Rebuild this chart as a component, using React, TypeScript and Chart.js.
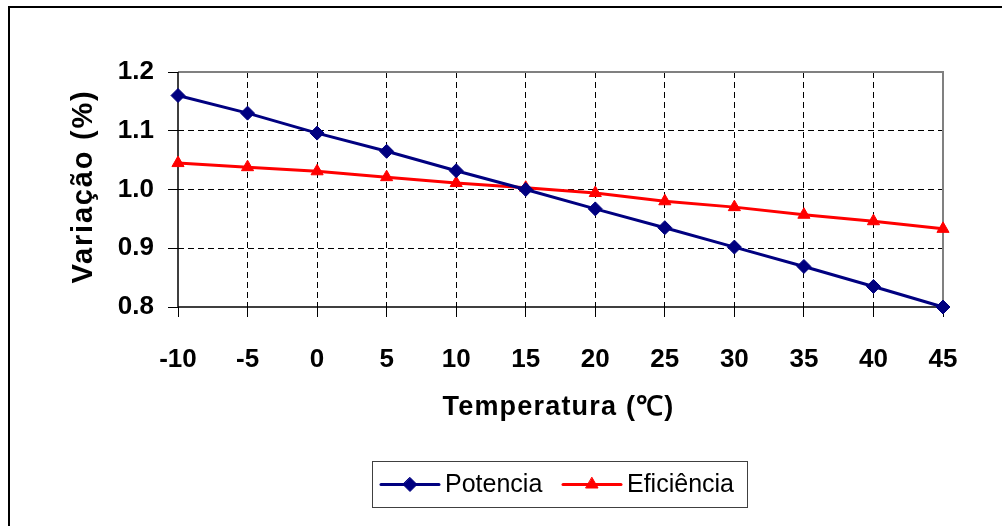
import React, { useEffect, useRef } from "react";
import { Chart, registerables } from "chart.js";

Chart.register(...registerables);

const temperatures = ["-10", "-5", "0", "5", "10", "15", "20", "25", "30", "35", "40", "45"];
const potencia = [1.16, 1.13, 1.096, 1.065, 1.032, 1.0, 0.967, 0.935, 0.902, 0.869, 0.835, 0.8];
const eficiencia = [1.045, 1.038, 1.031, 1.021, 1.011, 1.003, 0.994, 0.98, 0.97, 0.957, 0.946, 0.933];
const seriesNames = ["Potencia", "Eficiência"];
const xTitle = "Temperatura (℃)";
const yTitle = "Variação (%)";

const NAVY = "#000080";
const RED = "#FF0000";
const BOLD_FONT = "'Liberation Sans', Arial, sans-serif";

function drawMarker(ctx: CanvasRenderingContext2D, style: string, r: number, x: number, y: number, color: string) {
  ctx.save();
  ctx.fillStyle = color;
  ctx.strokeStyle = color;
  ctx.lineWidth = 1;
  ctx.beginPath();
  if (style === "rectRot") {
    ctx.moveTo(x, y - r);
    ctx.lineTo(x + r, y);
    ctx.lineTo(x, y + r);
    ctx.lineTo(x - r, y);
  } else {
    const h = r * 1.5;
    const w = r * Math.sqrt(3);
    ctx.moveTo(x, y - r);
    ctx.lineTo(x + w / 2, y - r + h);
    ctx.lineTo(x - w / 2, y - r + h);
  }
  ctx.closePath();
  ctx.fill();
  ctx.stroke();
  ctx.restore();
}

const framePlugin = {
  id: "frame",
  beforeDatasetsDraw(chart: any) {
    const { ctx, chartArea } = chart;
    const { left, right, top, bottom } = chartArea;
    ctx.save();
    ctx.setLineDash([]);
    ctx.strokeStyle = "#808080";
    ctx.lineWidth = 2;
    ctx.beginPath();
    ctx.moveTo(left, top);
    ctx.lineTo(right, top);
    ctx.lineTo(right, bottom);
    ctx.stroke();
    ctx.strokeStyle = "#000";
    ctx.lineWidth = 1.5;
    ctx.beginPath();
    ctx.moveTo(left, top);
    ctx.lineTo(left, bottom);
    ctx.lineTo(right, bottom);
    ctx.stroke();
    ctx.restore();
  },
  afterDraw(chart: any) {
    const { ctx, width, height, chartArea } = chart;
    ctx.save();
    ctx.setLineDash([]);
    // outer border (top and left visible)
    ctx.strokeStyle = "#000";
    ctx.lineWidth = 2;
    ctx.beginPath();
    ctx.moveTo(9, height + 5);
    ctx.lineTo(9, 7);
    ctx.lineTo(width + 5, 7);
    ctx.stroke();

    // axis titles (slightly stretched like the original)
    const cx = (chartArea.left + chartArea.right) / 2;
    const cyA = (chartArea.top + chartArea.bottom) / 2;
    ctx.fillStyle = "#000";
    ctx.textAlign = "center";
    ctx.textBaseline = "middle";
    ctx.font = `bold 27px ${BOLD_FONT}`;
    (ctx as any).letterSpacing = "1.2px";
    ctx.fillText(xTitle, cx - 2, 408);
    ctx.save();
    ctx.translate(84, cyA - 3);
    ctx.rotate(-Math.PI / 2);
    ctx.font = `bold 29px ${BOLD_FONT}`;
    (ctx as any).letterSpacing = "1.8px";
    ctx.fillText(yTitle, 0, 0);
    ctx.restore();
    (ctx as any).letterSpacing = "0px";

    // legend box
    const bx = 372, by = 461, bw = 375, bh = 46;
    ctx.lineWidth = 1;
    ctx.strokeStyle = "#404040";
    ctx.strokeRect(bx + 0.5, by + 0.5, bw, bh);
    const cy = by + bh / 2 + 0.5;
    const items = [
      { x: 381, color: NAVY, style: "rectRot", r: 7, text: seriesNames[0] },
      { x: 563, color: RED, style: "triangle", r: 7, text: seriesNames[1] },
    ];
    ctx.font = `25px ${BOLD_FONT}`;
    ctx.textBaseline = "middle";
    ctx.textAlign = "left";
    for (const it of items) {
      ctx.strokeStyle = it.color;
      ctx.lineWidth = 3;
      ctx.lineCap = "round";
      ctx.beginPath();
      ctx.moveTo(it.x, cy);
      ctx.lineTo(it.x + 58, cy);
      ctx.stroke();
      drawMarker(ctx, it.style, it.r, it.x + 29, cy, it.color);
      ctx.fillStyle = "#000";
      ctx.fillText(it.text, it.x + 64, cy + 1);
    }
    ctx.restore();
  },
};

export default function App() {
  const ref = useRef<HTMLCanvasElement>(null);
  useEffect(() => {
    if (!ref.current) return;
    const n = temperatures.length;
    const chart = new Chart(ref.current, {
      type: "line",
      data: {
        labels: temperatures,
        datasets: [
          {
            label: seriesNames[0],
            data: potencia,
            borderColor: NAVY,
            backgroundColor: NAVY,
            borderWidth: 3,
            pointStyle: "rectRot",
            pointRadius: 7,
            pointBorderWidth: 1,
            tension: 0,
          },
          {
            label: seriesNames[1],
            data: eficiencia,
            borderColor: RED,
            backgroundColor: RED,
            borderWidth: 3,
            pointStyle: "triangle",
            pointRadius: 7,
            pointBorderWidth: 1,
            tension: 0,
          },
        ],
      },
      options: {
        responsive: false,
        animation: false,
        clip: false as any,
        layout: { padding: { left: 0, top: 72, right: 59, bottom: 89 } },
        plugins: { legend: { display: false }, tooltip: { enabled: false } },
        scales: {
          x: {
            type: "category",
            offset: false,
            afterFit(scale: any) {
              scale.height = 130;
            },
            grid: {
              color: (c: any) => (c.index === 0 || c.index === n - 1 ? "rgba(0,0,0,0)" : "#000"),
              lineWidth: 1,
              tickColor: "#000",
              tickBorderDash: [],
              tickLength: 10,
              drawTicks: true,
            } as any,
            border: { display: false, dash: [6, 4] } as any,
            ticks: {
              color: "#000",
              padding: 27,
              maxRotation: 0,
              autoSkip: false,
              font: { family: BOLD_FONT, size: 26, weight: "bold" },
            },
            title: { display: false },
          },
          y: {
            min: 0.8,
            max: 1.2,
            afterFit(scale: any) {
              scale.width = 178;
            },
            grid: {
              color: (c: any) =>
                c.tick && (Math.abs(c.tick.value - 0.8) < 1e-6 || Math.abs(c.tick.value - 1.2) < 1e-6)
                  ? "rgba(0,0,0,0)"
                  : "#000",
              lineWidth: 1,
              tickColor: "#000",
              tickBorderDash: [],
              tickLength: 10,
            } as any,
            border: { display: false, dash: [6, 4] } as any,
            ticks: {
              stepSize: 0.1,
              color: "#000",
              padding: 14,
              callback: (v: any) => Number(v).toFixed(1),
              font: { family: BOLD_FONT, size: 26, weight: "bold" },
            },
            title: { display: false },
          },
        },
      },
      plugins: [framePlugin],
    });
    return () => chart.destroy();
  }, []);
  return (
    <div style={{ position: "fixed", left: 0, top: 0, width: 1002, height: 526, background: "#fff" }}>
      <canvas ref={ref} width={1002} height={526} style={{ display: "block" }} />
    </div>
  );
}
